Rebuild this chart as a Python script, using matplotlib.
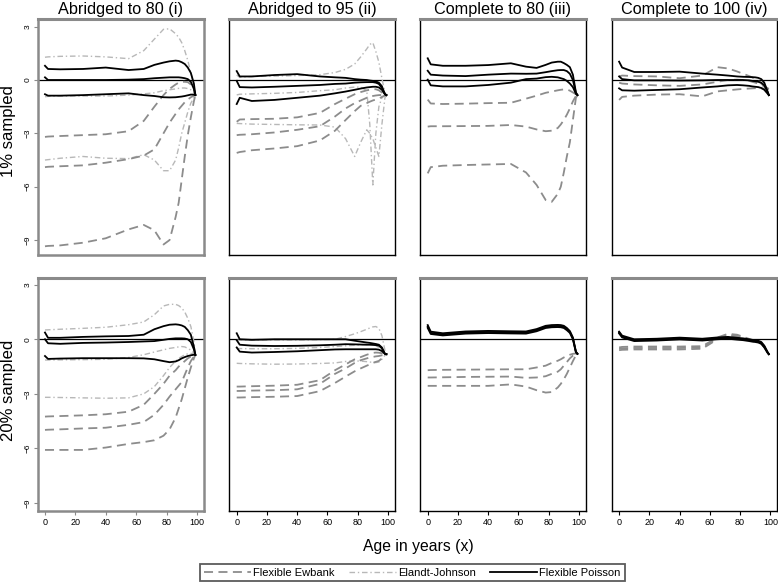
import matplotlib
matplotlib.use("Agg")
import matplotlib.pyplot as plt
from matplotlib.lines import Line2D

plt.rcParams['font.family'] = ['Liberation Sans', 'DejaVu Sans']

# age grid (years) shared by every curve
ages = [0, 2, 10, 25, 40, 55, 65, 72, 78, 82, 86, 88, 90, 92, 94, 96, 98, 99]

col_titles = ["Abridged to 80 (i)", "Abridged to 95 (ii)",
              "Complete to 80 (iii)", "Complete to 100 (iv)"]
row_titles = ["1% sampled", "20% sampled"]

# ---- 1% sampled -------------------------------------------------------
ab80_1_poisson = [
    [0.8, 0.62, 0.6, 0.62, 0.7, 0.56, 0.62, 0.85, 0.98, 1.05, 1.09, 1.07, 1.0, 0.9, 0.7, 0.4, -0.2, -0.85],
    [0.15, 0.0, 0.0, 0.0, 0.0, 0.02, 0.05, 0.1, 0.13, 0.15, 0.15, 0.15, 0.13, 0.1, 0.05, -0.1, -0.5, -0.85],
    [-0.8, -0.88, -0.88, -0.85, -0.8, -0.75, -0.85, -0.9, -0.97, -0.98, -0.97, -0.95, -0.93, -0.9, -0.86, -0.82, -0.82, -0.85],
]
ab80_1_ewbank = [
    [-3.2, -3.18, -3.15, -3.1, -3.05, -2.88, -2.3, -1.5, -0.85, -0.5, -0.25, -0.15, -0.1, -0.1, -0.12, -0.25, -0.55, -0.85],
    [-4.9, -4.88, -4.85, -4.8, -4.65, -4.45, -4.25, -3.9, -3.0, -2.4, -1.9, -1.65, -1.45, -1.25, -1.1, -0.97, -0.88, -0.85],
    [-9.35, -9.33, -9.3, -9.15, -8.9, -8.4, -8.15, -8.45, -9.25, -9.0, -7.7, -6.9, -5.6, -4.3, -3.1, -2.1, -1.2, -0.85],
]
ab80_1_ej = [
    [1.28, 1.3, 1.33, 1.35, 1.3, 1.2, 1.65, 2.3, 2.85, 2.88, 2.6, 2.4, 2.1, 1.65, 1.1, 0.4, -0.3, -0.85],
    [-0.94, -0.92, -0.9, -0.9, -0.9, -0.85, -0.78, -0.72, -0.6, -0.55, -0.5, -0.47, -0.45, -0.45, -0.48, -0.55, -0.7, -0.85],
    [-4.5, -4.48, -4.4, -4.3, -4.4, -4.42, -4.2, -4.5, -5.1, -5.1, -4.5, -3.8, -3.0, -2.4, -1.8, -1.3, -1.0, -0.85],
]

ab95_1_poisson = [
    [0.5, 0.2, 0.2, 0.28, 0.33, 0.2, 0.15, 0.12, 0.05, 0.02, 0.0, -0.03, -0.05, -0.08, -0.15, -0.35, -0.8, -0.85],
    [-0.05, -0.4, -0.42, -0.38, -0.33, -0.28, -0.22, -0.2, -0.15, -0.13, -0.12, -0.12, -0.12, -0.15, -0.22, -0.45, -0.8, -0.85],
    [-1.35, -1.0, -1.18, -1.12, -1.0, -0.88, -0.75, -0.65, -0.55, -0.48, -0.42, -0.4, -0.38, -0.38, -0.42, -0.55, -0.8, -0.85],
]
ab95_1_ewbank = [
    [-2.35, -2.22, -2.2, -2.18, -2.1, -1.85, -1.35, -1.05, -0.8, -0.68, -0.58, -0.55, -0.52, -0.52, -0.58, -0.7, -0.82, -0.85],
    [-3.1, -3.08, -3.05, -2.95, -2.8, -2.6, -2.05, -1.6, -1.3, -1.15, -1.0, -0.95, -0.9, -0.87, -0.85, -0.84, -0.85, -0.85],
    [-4.1, -4.05, -3.95, -3.85, -3.72, -3.4, -2.85, -2.25, -1.75, -1.45, -1.3, -1.22, -1.15, -1.1, -1.05, -0.95, -0.87, -0.85],
]
ab95_1_ej = [
    [0.28, 0.15, 0.2, 0.22, 0.25, 0.3, 0.42, 0.6, 0.9, 1.3, 1.75, 2.0, 2.1, 1.6, 1.0, 0.1, -0.7, -0.85],
    [-0.84, -0.8, -0.78, -0.75, -0.7, -0.6, -0.55, -0.45, -0.4, -0.4, -0.6, -2.5, -5.9, -3.0, -1.5, -1.0, -0.85, -0.85],
    [-2.44, -2.45, -2.48, -2.5, -2.52, -2.53, -2.65, -3.3, -4.3, -3.5, -2.8, -3.0, -3.3, -3.8, -4.3, -2.5, -1.0, -0.85],
]

co80_1_poisson = [
    [1.22, 0.88, 0.8, 0.8, 0.84, 0.94, 0.75, 0.68, 0.85, 0.98, 1.03, 1.03, 0.95, 0.85, 0.72, 0.3, -0.7, -0.85],
    [0.52, 0.3, 0.25, 0.22, 0.3, 0.36, 0.35, 0.36, 0.44, 0.5, 0.55, 0.56, 0.56, 0.5, 0.35, 0.0, -0.72, -0.85],
    [0.02, -0.3, -0.36, -0.36, -0.28, -0.15, 0.05, 0.08, 0.16, 0.18, 0.15, 0.1, 0.05, -0.05, -0.2, -0.4, -0.78, -0.85],
]
co80_1_ewbank = [
    [-1.1, -1.32, -1.35, -1.33, -1.3, -1.28, -1.05, -0.88, -0.72, -0.65, -0.58, -0.55, -0.53, -0.53, -0.6, -0.7, -0.8, -0.85],
    [-2.62, -2.6, -2.6, -2.59, -2.58, -2.53, -2.62, -2.78, -2.88, -2.85, -2.7, -2.5, -2.25, -1.95, -1.6, -1.2, -0.9, -0.85],
    [-5.25, -4.9, -4.82, -4.78, -4.75, -4.72, -5.2, -5.9, -6.75, -6.85, -6.4, -6.0, -5.2, -4.3, -3.5, -2.25, -1.0, -0.85],
]

co100_1_poisson = [
    [1.03, 0.7, 0.45, 0.45, 0.47, 0.36, 0.3, 0.25, 0.2, 0.18, 0.17, 0.16, 0.15, 0.12, 0.05, -0.15, -0.6, -0.85],
    [0.2, 0.05, -0.02, -0.02, -0.03, -0.02, 0.0, 0.0, 0.0, 0.0, -0.02, -0.05, -0.07, -0.1, -0.15, -0.3, -0.65, -0.85],
    [-0.47, -0.58, -0.6, -0.56, -0.52, -0.42, -0.36, -0.3, -0.28, -0.3, -0.33, -0.36, -0.38, -0.4, -0.45, -0.55, -0.75, -0.85],
]
co100_1_ewbank = [
    [0.2, 0.25, 0.22, 0.2, 0.1, 0.25, 0.72, 0.65, 0.48, 0.35, 0.22, 0.15, 0.05, -0.05, -0.2, -0.35, -0.45, -0.5],
    [-0.15, -0.2, -0.25, -0.3, -0.33, -0.25, -0.1, 0.0, 0.02, 0.0, -0.05, -0.1, -0.15, -0.2, -0.28, -0.35, -0.45, -0.5],
    [-1.12, -0.95, -0.88, -0.82, -0.8, -0.92, -0.64, -0.58, -0.53, -0.5, -0.48, -0.47, -0.46, -0.46, -0.47, -0.48, -0.5, -0.5],
]

# ---- 20% sampled ------------------------------------------------------
ab80_20_poisson = [
    [0.37, 0.08, 0.08, 0.13, 0.16, 0.18, 0.25, 0.55, 0.72, 0.8, 0.82, 0.8, 0.76, 0.68, 0.5, 0.25, -0.4, -0.86],
    [0.0, -0.22, -0.25, -0.2, -0.18, -0.15, -0.12, -0.1, -0.03, 0.02, 0.05, 0.05, 0.05, 0.04, 0.0, -0.15, -0.55, -0.86],
    [-0.92, -1.08, -1.06, -1.04, -1.04, -1.04, -1.05, -1.1, -1.2, -1.26, -1.22, -1.15, -1.05, -0.98, -0.92, -0.88, -0.85, -0.86],
]
ab80_20_ewbank = [
    [-4.25, -4.24, -4.22, -4.18, -4.12, -3.98, -3.6, -3.0, -2.45, -2.0, -1.7, -1.5, -1.35, -1.2, -1.05, -0.95, -0.88, -0.86],
    [-4.98, -4.97, -4.95, -4.9, -4.86, -4.7, -4.55, -4.15, -3.6, -3.15, -2.75, -2.55, -2.35, -1.95, -1.55, -1.2, -0.95, -0.86],
    [-6.08, -6.08, -6.08, -6.08, -5.95, -5.75, -5.65, -5.55, -5.3, -4.95, -4.3, -3.8, -3.3, -2.7, -2.1, -1.55, -1.05, -0.86],
]
ab80_20_ej = [
    [0.51, 0.52, 0.55, 0.6, 0.66, 0.8, 0.95, 1.35, 1.83, 1.92, 1.92, 1.85, 1.72, 1.5, 1.15, 0.7, -0.1, -0.86],
    [-1.14, -1.14, -1.13, -1.12, -1.1, -1.0, -0.85, -0.7, -0.58, -0.5, -0.45, -0.42, -0.4, -0.42, -0.5, -0.6, -0.75, -0.86],
    [-3.19, -3.19, -3.2, -3.22, -3.24, -3.22, -3.0, -2.6, -2.0, -1.55, -1.2, -1.05, -0.95, -0.85, -0.8, -0.78, -0.8, -0.86],
]

ab95_20_poisson = [
    [0.33, 0.0, -0.03, 0.0, 0.0, 0.0, 0.0, 0.0, -0.08, -0.13, -0.18, -0.2, -0.23, -0.26, -0.3, -0.45, -0.8, -0.82],
    [-0.05, -0.3, -0.35, -0.37, -0.36, -0.33, -0.3, -0.27, -0.28, -0.29, -0.3, -0.3, -0.31, -0.32, -0.35, -0.5, -0.8, -0.82],
    [-0.45, -0.68, -0.73, -0.7, -0.66, -0.6, -0.56, -0.55, -0.55, -0.55, -0.55, -0.55, -0.55, -0.55, -0.57, -0.65, -0.8, -0.82],
]
ab95_20_ewbank = [
    [-2.6, -2.6, -2.58, -2.55, -2.5, -2.25, -1.7, -1.38, -1.1, -0.98, -0.85, -0.8, -0.75, -0.73, -0.74, -0.77, -0.8, -0.82],
    [-2.84, -2.84, -2.82, -2.8, -2.75, -2.45, -1.9, -1.6, -1.3, -1.15, -1.05, -1.0, -0.97, -0.94, -0.92, -0.88, -0.84, -0.82],
    [-3.2, -3.2, -3.18, -3.16, -3.12, -2.85, -2.4, -2.05, -1.76, -1.6, -1.45, -1.38, -1.3, -1.24, -1.19, -1.05, -0.88, -0.82],
]
ab95_20_ej = [
    [-0.05, -0.05, -0.05, -0.05, -0.05, -0.03, 0.0, 0.15, 0.3, 0.42, 0.55, 0.62, 0.68, 0.7, 0.6, 0.2, -0.6, -0.82],
    [-0.51, -0.51, -0.52, -0.52, -0.5, -0.45, -0.4, -0.36, -0.33, -0.3, -0.28, -0.28, -0.3, -0.35, -0.45, -0.6, -0.78, -0.82],
    [-1.32, -1.33, -1.35, -1.37, -1.36, -1.33, -1.3, -1.22, -1.19, -1.2, -1.23, -1.25, -1.27, -1.28, -1.25, -1.1, -0.88, -0.82],
]

co80_20_poisson = [
    [0.78, 0.42, 0.33, 0.43, 0.46, 0.44, 0.43, 0.56, 0.74, 0.78, 0.79, 0.78, 0.74, 0.62, 0.45, 0.1, -0.68, -0.8],
    [0.7, 0.35, 0.27, 0.37, 0.4, 0.38, 0.37, 0.5, 0.68, 0.72, 0.73, 0.72, 0.68, 0.56, 0.4, 0.05, -0.7, -0.8],
    [0.62, 0.29, 0.21, 0.31, 0.34, 0.32, 0.31, 0.44, 0.62, 0.66, 0.67, 0.66, 0.62, 0.5, 0.35, 0.0, -0.72, -0.8],
]
co80_20_ewbank = [
    [-1.7, -1.69, -1.68, -1.67, -1.66, -1.65, -1.65, -1.55, -1.45, -1.3, -1.18, -1.1, -1.0, -0.92, -0.85, -0.8, -0.78, -0.8],
    [-2.1, -2.1, -2.09, -2.07, -2.06, -2.05, -2.12, -2.1, -2.03, -1.9, -1.78, -1.65, -1.45, -1.25, -1.05, -0.9, -0.8, -0.8],
    [-2.56, -2.56, -2.56, -2.56, -2.56, -2.48, -2.6, -2.8, -2.93, -2.9, -2.65, -2.45, -2.2, -1.9, -1.55, -1.2, -0.88, -0.8],
]

co100_20_poisson = [
    [0.42, 0.2, 0.0, 0.03, 0.09, 0.03, 0.1, 0.13, 0.08, 0.05, 0.0, -0.03, -0.05, -0.08, -0.15, -0.35, -0.67, -0.82],
    [0.37, 0.15, -0.05, -0.02, 0.04, -0.02, 0.05, 0.08, 0.03, 0.0, -0.05, -0.08, -0.1, -0.13, -0.2, -0.4, -0.7, -0.82],
    [0.32, 0.1, -0.1, -0.07, -0.01, -0.07, 0.0, 0.03, -0.02, -0.05, -0.1, -0.13, -0.15, -0.18, -0.25, -0.45, -0.73, -0.82],
]
co100_20_ewbank = [
    [-0.45, -0.42, -0.4, -0.4, -0.4, -0.38, 0.1, 0.3, 0.25, 0.14, 0.02, -0.05, -0.1, -0.14, -0.2, -0.4, -0.7, -0.82],
    [-0.52, -0.5, -0.48, -0.48, -0.48, -0.45, 0.05, 0.25, 0.2, 0.1, -0.02, -0.08, -0.12, -0.15, -0.22, -0.42, -0.7, -0.82],
    [-0.6, -0.58, -0.56, -0.56, -0.56, -0.52, 0.0, 0.2, 0.15, 0.06, -0.05, -0.1, -0.14, -0.17, -0.24, -0.44, -0.72, -0.82],
]

# panels: (row, col, poisson, ewbank, elandt-johnson)
panels = [
    (0, 0, ab80_1_poisson, ab80_1_ewbank, ab80_1_ej),
    (0, 1, ab95_1_poisson, ab95_1_ewbank, ab95_1_ej),
    (0, 2, co80_1_poisson, co80_1_ewbank, None),
    (0, 3, co100_1_poisson, co100_1_ewbank, None),
    (1, 0, ab80_20_poisson, ab80_20_ewbank, ab80_20_ej),
    (1, 1, ab95_20_poisson, ab95_20_ewbank, ab95_20_ej),
    (1, 2, co80_20_poisson, co80_20_ewbank, None),
    (1, 3, co100_20_poisson, co100_20_ewbank, None),
]

W, H = 778, 584
col_left = [38.3, 229.3, 420.3, 611.7]
col_w = 165.3
row_top = [19, 278.3]
row_bot = [255, 510.7]
row_ylim = [(-9.84, 3.43), (-9.42, 3.35)]

ewb_style = dict(color='#8c8c8c', lw=1.3, linestyle=(0, (5, 3)))
ej_style = dict(color='#b8b8b8', lw=1.0, linestyle=(0, (4, 2, 1, 2)))
poi_style = dict(color='black', lw=1.3, linestyle='-')
frame_grey = '#8a8a8a'

fig = plt.figure(figsize=(W / 100, H / 100), dpi=100)

for row, col, poi, ewb, ej in panels:
    ax = fig.add_axes([col_left[col] / W, 1 - row_bot[row] / H,
                       col_w / W, (row_bot[row] - row_top[row]) / H])
    if ej is not None:
        for s in ej:
            ax.plot(ages, s, zorder=2, **ej_style)
    for s in ewb:
        ax.plot(ages, s, zorder=3, **ewb_style)
    for s in poi:
        ax.plot(ages, s, zorder=4, **poi_style)
    ax.axhline(0, color='black', lw=0.9, zorder=1.5)

    ax.set_xlim(-4.4 if col == 0 else -4.9, 104.4)
    ax.set_ylim(*row_ylim[row])

    for side in ['left', 'right', 'bottom']:
        ax.spines[side].set_color(frame_grey if col == 0 else 'black')
        ax.spines[side].set_linewidth(1.8 if col == 0 else 1.0)
    ax.spines['top'].set_color(frame_grey)
    ax.spines['top'].set_linewidth(2.2)

    if col == 0:
        ax.set_yticks([-9, -6, -3, 0, 3])
        ax.tick_params(axis='y', length=3, color=frame_grey, labelsize=6,
                       labelrotation=90, pad=1.5)
        for t in ax.get_yticklabels():
            t.set_verticalalignment('center')
    else:
        ax.set_yticks([])
    if row == 1:
        ax.set_xticks([0, 20, 40, 60, 80, 100])
        ax.tick_params(axis='x', length=3, labelsize=6.5, pad=2,
                       color=frame_grey if col == 0 else 'black')
    else:
        ax.set_xticks([])

for col, title in enumerate(col_titles):
    fig.text((col_left[col] + col_w / 2) / W, 1 - 9.5 / H, title,
             ha='center', va='center', fontsize=11.7)

fig.text(9 / W, 1 - 131 / H, row_titles[0], rotation=90,
         ha='center', va='center', fontsize=12)
fig.text(9 / W, 1 - 390 / H, row_titles[1], rotation=90,
         ha='center', va='center', fontsize=12)

fig.text(418 / W, 1 - 547 / H, "Age in years (x)",
         ha='center', va='center', fontsize=11.3)

handles = [Line2D([], [], **ewb_style), Line2D([], [], **ej_style),
           Line2D([], [], **poi_style)]
leg = fig.legend(handles, ["Flexible Ewbank", "Elandt-Johnson", "Flexible Poisson"],
                 loc='center', bbox_to_anchor=(412.5 / W, 1 - 572.5 / H),
                 ncol=3, fontsize=8, handlelength=4.2, handletextpad=0.2,
                 columnspacing=1.3, fancybox=False, borderpad=0.35,
                 frameon=True, edgecolor='#333333')
leg.get_frame().set_linewidth(1.3)

fig.savefig("out.png", dpi=100)
